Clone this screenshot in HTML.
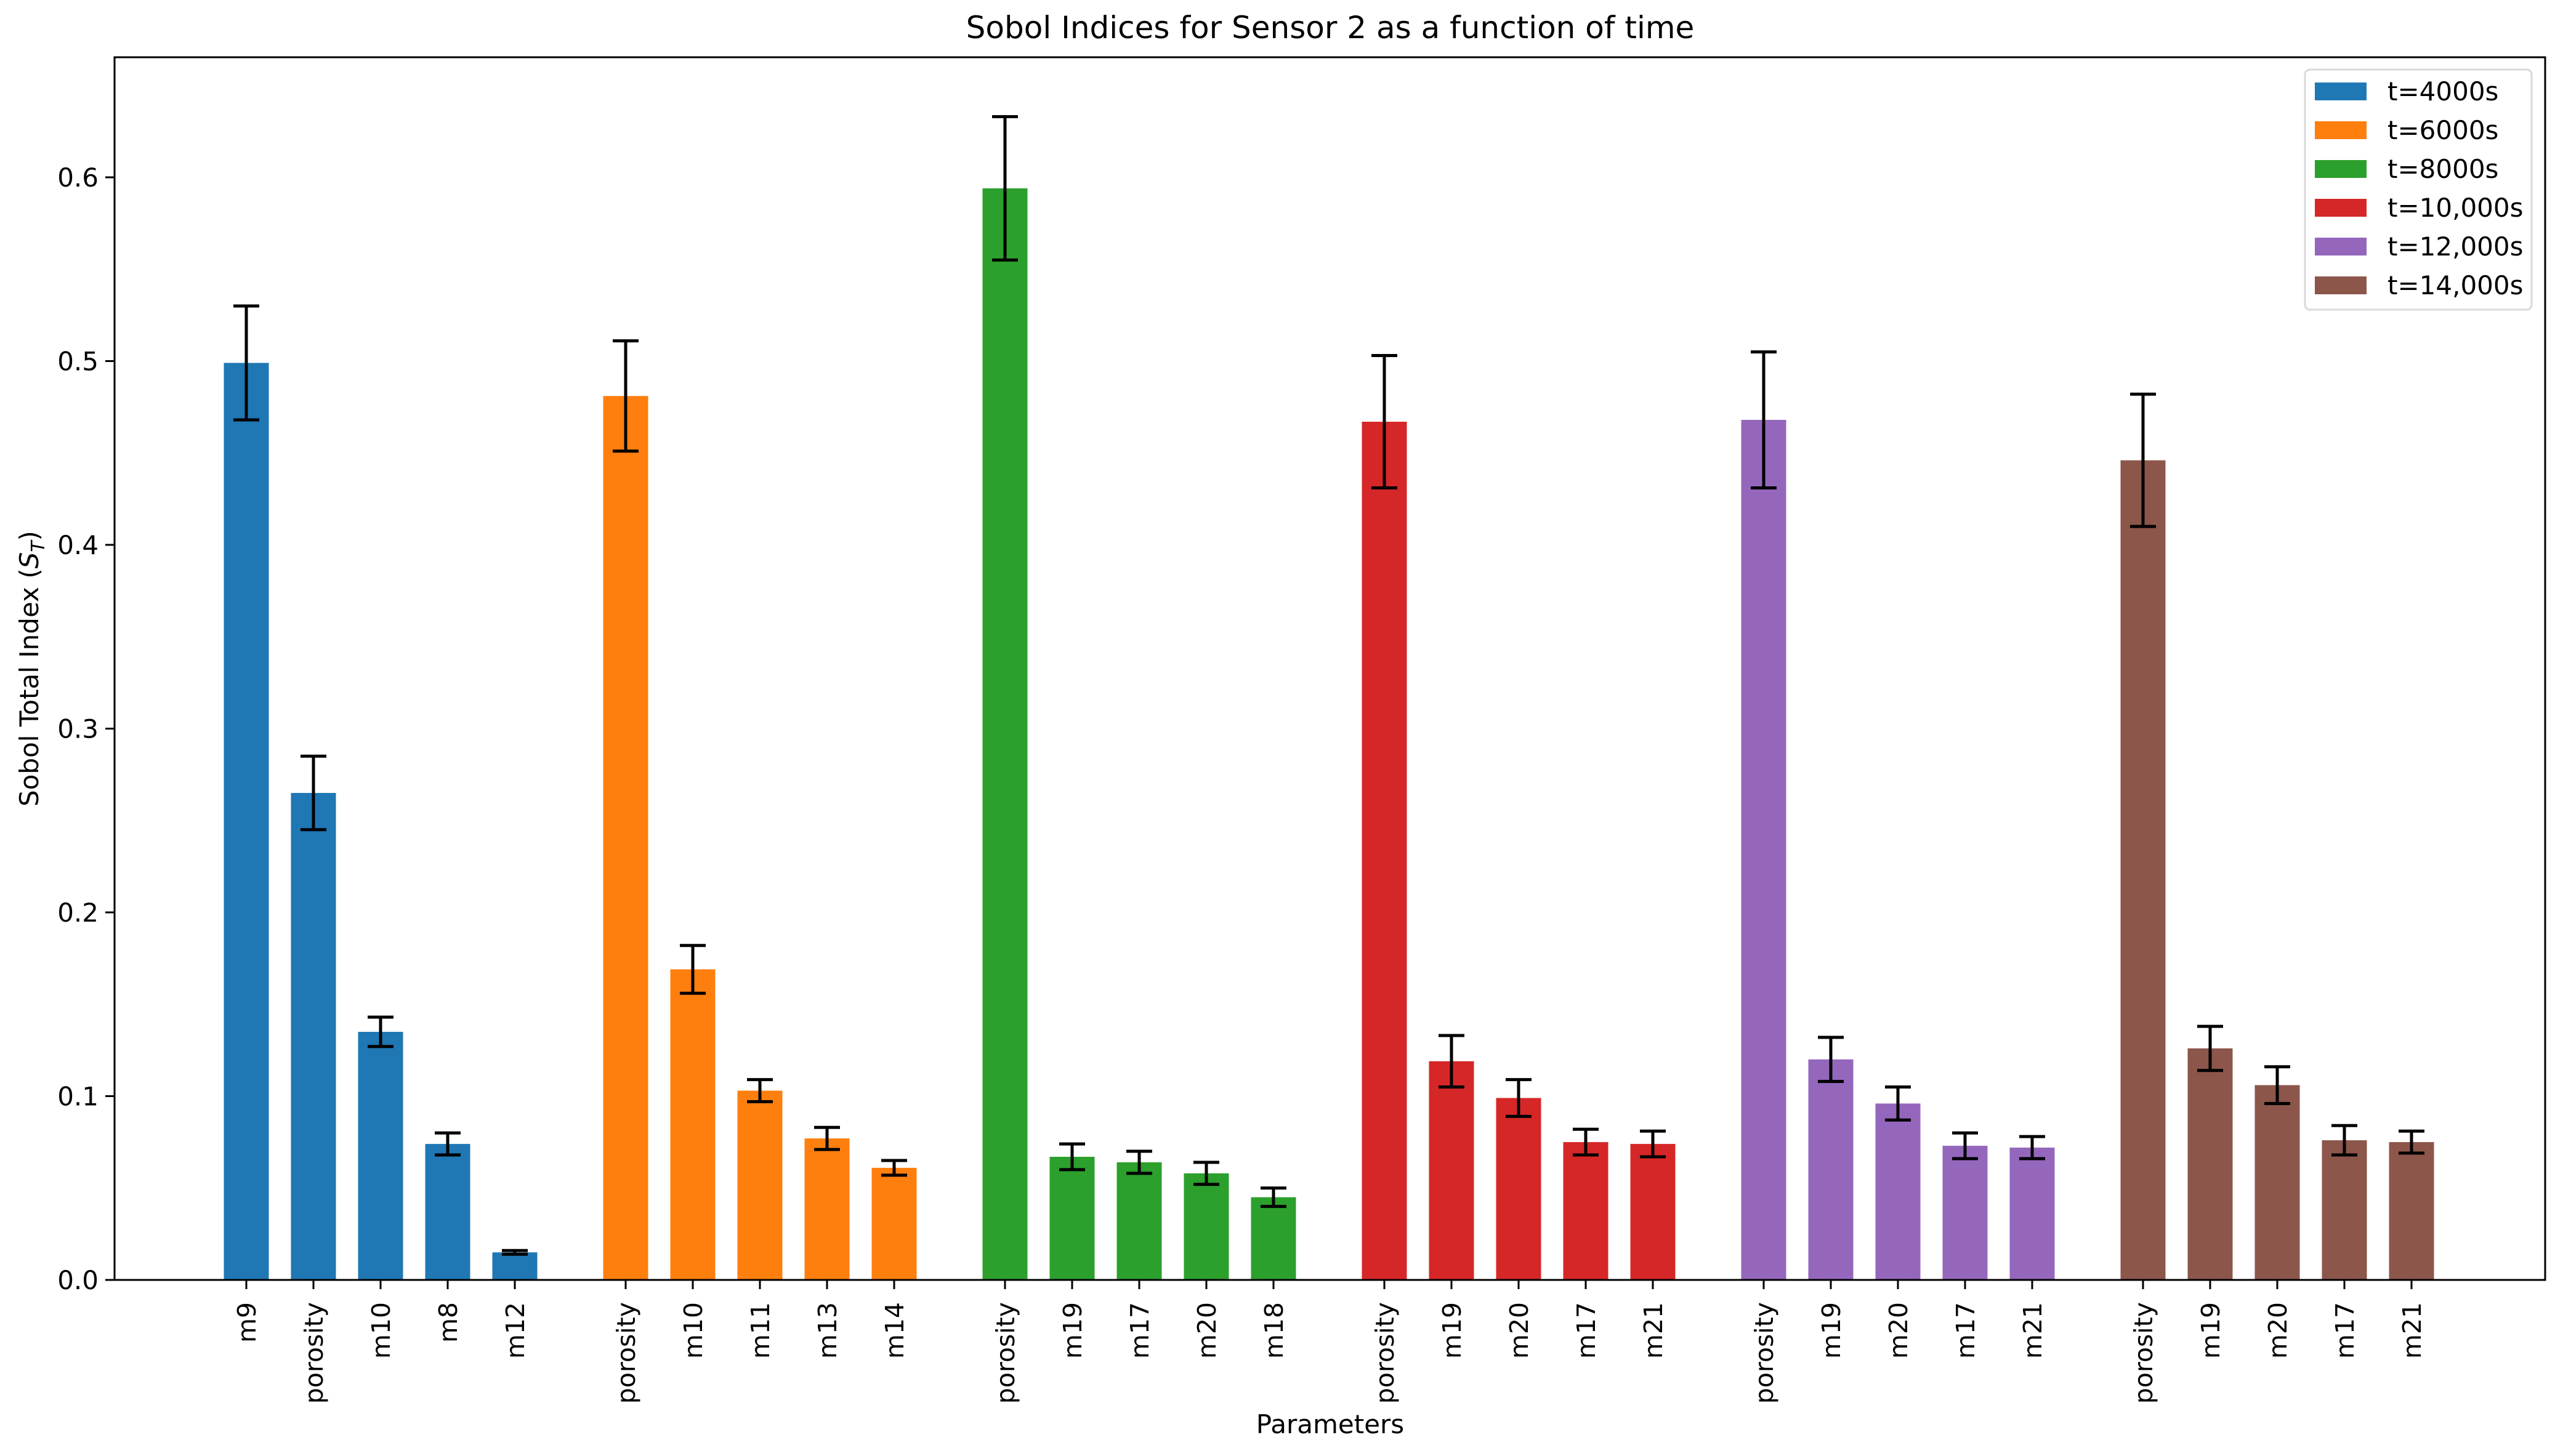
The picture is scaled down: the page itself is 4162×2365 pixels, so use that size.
<!DOCTYPE html>
<html><head><meta charset="utf-8"><style>
html,body{margin:0;padding:0;background:#fff;}
svg{display:block;font-family:"DejaVu Sans","Liberation Sans",sans-serif;}
</style></head><body>
<svg id="chart" width="4162" height="2365" viewBox="0 0 4162 2365" xmlns="http://www.w3.org/2000/svg">
<rect width="4162" height="2365" fill="#fff"/>
<text x="2160" y="62" text-anchor="middle" font-size="50">Sobol Indices for Sensor 2 as a function of time</text>
<g id="plot"></g>
<text x="2160" y="2328" text-anchor="middle" font-size="42">Parameters</text>
<text transform="translate(62,1086) rotate(-90)" text-anchor="middle" font-size="42">Sobol Total Index (<tspan font-style="italic">S</tspan><tspan font-style="italic" font-size="30" dy="10">T</tspan><tspan dy="-10">)</tspan></text>
</svg>
<script>
const groupLabels = ["t=4000s","t=6000s","t=8000s","t=10,000s","t=12,000s","t=14,000s"];
const colors = ["#1f77b4","#ff7f0e","#2ca02c","#d62728","#9467bd","#8c564b"];
const params = [
  ["m9","porosity","m10","m8","m12"],
  ["porosity","m10","m11","m13","m14"],
  ["porosity","m19","m17","m20","m18"],
  ["porosity","m19","m20","m17","m21"],
  ["porosity","m19","m20","m17","m21"],
  ["porosity","m19","m20","m17","m21"]
];
const values = [
  [0.499,0.265,0.135,0.074,0.015],
  [0.481,0.169,0.103,0.077,0.061],
  [0.594,0.067,0.064,0.058,0.045],
  [0.467,0.119,0.099,0.075,0.074],
  [0.468,0.120,0.096,0.073,0.072],
  [0.446,0.126,0.106,0.076,0.075]
];
const errors = [
  [0.031,0.020,0.008,0.006,0.001],
  [0.030,0.013,0.006,0.006,0.004],
  [0.039,0.007,0.006,0.006,0.005],
  [0.036,0.014,0.010,0.007,0.007],
  [0.037,0.012,0.009,0.007,0.006],
  [0.036,0.012,0.010,0.008,0.006]
];
const yTicks = [0.0,0.1,0.2,0.3,0.4,0.5,0.6];

const NS="http://www.w3.org/2000/svg";
const L=186,R=4133,T=93,B=2079;
const yPx = v => B - v*2985;
const xPx = (g,i) => 400 + g*616 + i*109;
const BW=73;
const plot=document.getElementById('plot');
function mk(tag,attrs,parent){const e=document.createElementNS(NS,tag);for(const k in attrs)e.setAttribute(k,attrs[k]);(parent||plot).appendChild(e);return e;}

values.forEach((arr,g)=>{
  arr.forEach((v,i)=>{
    const x=xPx(g,i);
    const r=mk('rect',{x:x-BW/2,y:yPx(v),width:BW,height:B-yPx(v),fill:colors[g]});
    
    
  });
});
values.forEach((arr,g)=>{
  arr.forEach((v,i)=>{
    const x=xPx(g,i),e=errors[g][i];
    const eg=mk('g',{stroke:'#000','stroke-width':5});
    
    
    mk('line',{x1:x,x2:x,y1:yPx(v+e),y2:yPx(v-e)},eg);
    mk('line',{x1:x-21,x2:x+21,y1:yPx(v+e),y2:yPx(v+e)},eg);
    mk('line',{x1:x-21,x2:x+21,y1:yPx(v-e),y2:yPx(v-e)},eg);
  });
});
yTicks.forEach(t=>{
  const y=yPx(t);
  mk('line',{x1:L-15,x2:L,y1:y,y2:y,stroke:'#000','stroke-width':3});
  const tx=mk('text',{x:L-26,y:y+15,'text-anchor':'end','font-size':42});
  tx.textContent=t.toFixed(1);
  
  
});
params.forEach((arr,g)=>{
  arr.forEach((p,i)=>{
    const x=xPx(g,i);
    mk('line',{x1:x,x2:x,y1:B,y2:B+15,stroke:'#000','stroke-width':3});
    const tx=mk('text',{transform:`translate(${x+15},2115) rotate(-90)`,'text-anchor':'end','font-size':41});
    tx.textContent=p;
    
    
  });
});
const fr=mk('rect',{x:L,y:T,width:R-L,height:B-T,fill:'none',stroke:'#000','stroke-width':3});


const lg=mk('g',{});


mk('rect',{x:3743,y:113,width:368,height:390,rx:8,fill:'#fff',stroke:'#d9d9d9','stroke-width':3},lg);
groupLabels.forEach((lab,k)=>{
  const y=134+k*63;
  const sw=mk('rect',{x:3759,y:y,width:84,height:29,fill:colors[k]},lg);
  
  
  const tx=mk('text',{x:3877,y:y+29,'font-size':42},lg);
  tx.textContent=lab;
  
  
});
</script>
</body></html>
